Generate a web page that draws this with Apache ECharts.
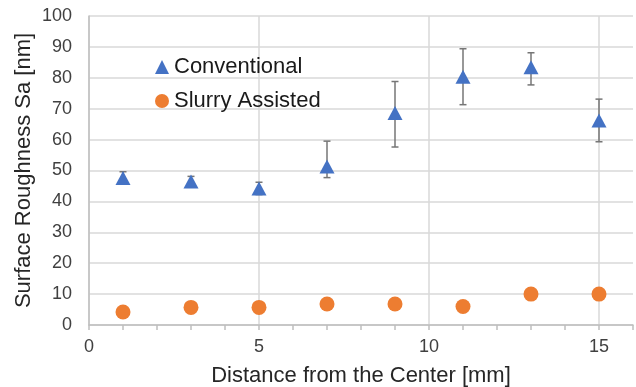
<!DOCTYPE html>
<html>
<head>
<meta charset="utf-8">
<script src="https://cdn.jsdelivr.net/npm/echarts@6/dist/echarts.min.js"></script>
<style>
    html, body { margin: 0; padding: 0; background: #fff; }
    #chart { width: 636px; height: 387px; }
</style>
</head>
<body>
<div id="chart"></div>
<script>
    // distances from the center [mm]
    const distance = [1, 3, 5, 7, 9, 11, 13, 15]
    const conventional = [47.6, 46.4, 44.2, 51.3, 68.6, 80.3, 83.4, 66.2]
    const convLow = [45.6, 44.9, 42.2, 47.7, 57.6, 71.3, 77.7, 59.3]
    const convHigh = [49.6, 48.1, 46.2, 59.5, 78.8, 89.4, 88.1, 73.1]
    const slurry = [4.2, 5.7, 5.7, 6.8, 6.8, 6.0, 10.0, 10.0]

    const font = 'Liberation Sans, Arial, sans-serif'
    const chart = echarts.init(document.getElementById('chart'))

    const option = {
        animation: false,
        grid: { left: 89, right: 3, top: 16, bottom: 62, outerBoundsMode: 'none', containLabel: false },
        legend: {
            orient: 'vertical',
            left: 155,
            top: 56,
            padding: 0,
            itemGap: 12,
            itemWidth: 14,
            itemHeight: 14,
            textStyle: { fontFamily: font, fontSize: 22, color: '#1a1a1a' },
            data: [
                { name: 'Conventional', icon: 'triangle' },
                { name: 'Slurry Assisted', icon: 'circle' }
            ]
        },
        xAxis: {
            type: 'value',
            min: 0,
            max: 16,
            interval: 1,
            name: 'Distance from the Center [mm]',
            nameLocation: 'middle',
            nameGap: 40,
            nameMoveOverlap: false,
            nameTextStyle: { fontFamily: font, fontSize: 22, color: '#262626' },
            axisLine: { lineStyle: { color: '#bfbfbf', width: 1.5 } },
            axisTick: { show: true, interval: 0, length: 5, lineStyle: { color: '#bfbfbf', width: 1.5 } },
            axisLabel: {
                interval: 0,
                fontFamily: font, fontSize: 18, color: '#404040', margin: 13,
                formatter: function (v) { return v % 5 === 0 ? String(v) : '' }
            },
            splitLine: {
                show: true,
                lineStyle: { color: ['#d9d9d9', 'transparent', 'transparent', 'transparent', 'transparent'], width: 1.5 }
            }
        },
        yAxis: {
            type: 'value',
            min: 0,
            max: 100,
            interval: 10,
            name: 'Surface Roughness Sa [nm]',
            nameLocation: 'middle',
            nameGap: 54,
            nameMoveOverlap: false,
            nameTextStyle: { fontFamily: font, fontSize: 22, color: '#262626' },
            axisLine: { show: true, lineStyle: { color: '#bfbfbf', width: 1.5 } },
            axisTick: { show: false },
            axisLabel: { fontFamily: font, fontSize: 18, color: '#404040', margin: 17 },
            splitLine: { lineStyle: { color: '#d9d9d9', width: 1.5 } }
        },
        series: [
            {
                name: 'errors',
                type: 'custom',
                z: 1,
                data: distance.map((d, i) => [d, convLow[i], convHigh[i]]),
                renderItem: function (params, api) {
                    const lo = api.coord([api.value(0), api.value(1)])
                    const hi = api.coord([api.value(0), api.value(2)])
                    const w = 3.5
                    const style = { stroke: '#767676', lineWidth: 1.5 }
                    return {
                        type: 'group',
                        children: [
                            { type: 'line', shape: { x1: hi[0], y1: hi[1], x2: lo[0], y2: lo[1] }, style },
                            { type: 'line', shape: { x1: hi[0] - w, y1: hi[1], x2: hi[0] + w, y2: hi[1] }, style },
                            { type: 'line', shape: { x1: lo[0] - w, y1: lo[1], x2: lo[0] + w, y2: lo[1] }, style }
                        ]
                    }
                }
            },
            {
                name: 'Conventional',
                type: 'scatter',
                z: 3,
                symbol: 'triangle',
                symbolSize: [15, 14],
                itemStyle: { color: '#4472c4', opacity: 1 },
                data: distance.map((d, i) => [d, conventional[i]])
            },
            {
                name: 'Slurry Assisted',
                type: 'scatter',
                z: 3,
                symbol: 'circle',
                symbolSize: 15,
                itemStyle: { color: '#ed7d31', opacity: 1 },
                data: distance.map((d, i) => [d, slurry[i]])
            }
        ]
    }

    chart.setOption(option)
</script>
</body>
</html>
